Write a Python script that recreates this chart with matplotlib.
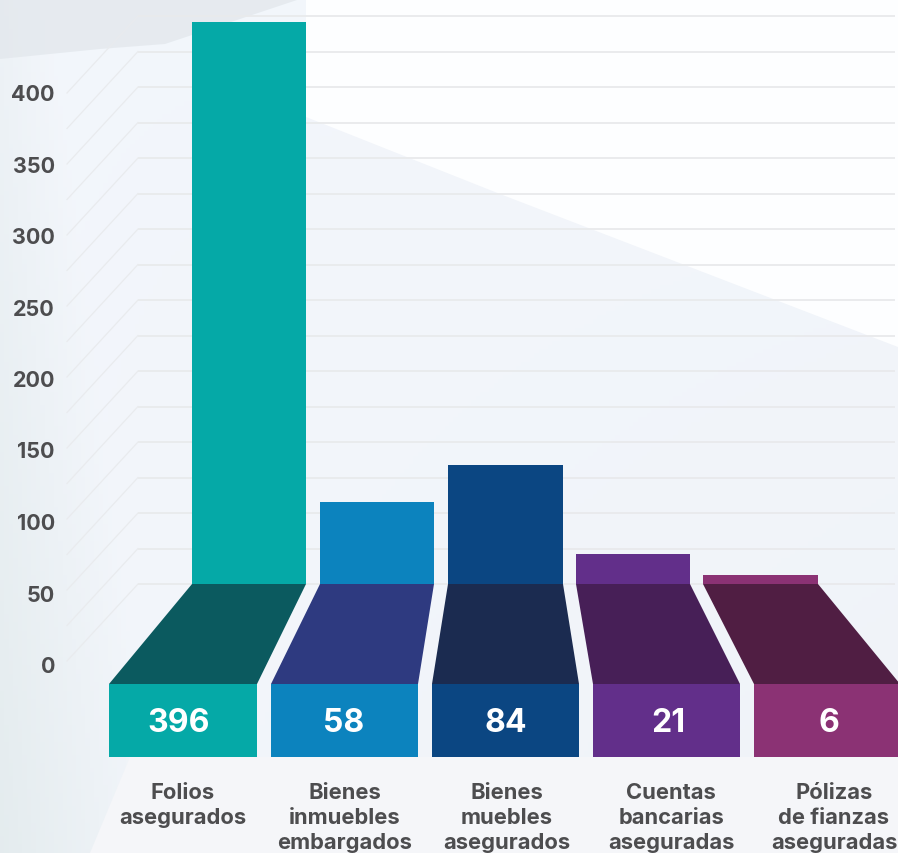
import numpy as np
import matplotlib
matplotlib.use("Agg")
import matplotlib.pyplot as plt
from matplotlib.patches import Polygon

categories = ["Folios\nasegurados", "Bienes\ninmuebles\nembargados", "Bienes\nmuebles\nasegurados",
              "Cuentas\nbancarias\naseguradas", "Pólizas\nde fianzas\naseguradas"]
values = [396, 58, 84, 21, 6]
bar_colors = ["#05A9A7", "#0C83BE", "#0B4682", "#622F8A", "#8B3274"]
floor_colors = ["#0B5A5F", "#2E3A80", "#1B2B50", "#471F57", "#501E43"]
y_ticks = [0, 50, 100, 150, 200, 250, 300, 350, 400]
grid_values = list(range(0, 425, 25))

# pixel layout
W, H = 898, 854
BASE_Y = 585
PX_PER_UNIT = 1.42
FRONT_TOP, FRONT_BOTTOM = 685, 758
back_left = [192, 320, 448, 576, 703]
back_right = [306, 434, 563, 690, 818]
front_left = [109, 271, 432, 593, 754]
front_right = [257, 418, 579, 740, 900]
label_x = [183, 345, 507, 671, 834]
number_x = [179, 344, 506, 668, 829]

plt.rcParams["font.family"] = ["Inter", "DejaVu Sans"]
fig = plt.figure(figsize=(W / 100, H / 100), dpi=100)

# background, in pixel coordinates
bg = fig.add_axes([0, 0, 1, 1])
bg.set_xlim(0, W)
bg.set_ylim(H, 0)
bg.axis("off")
gx, gy = np.meshgrid(np.linspace(0, 1, 200), np.linspace(0, 1, 200))
left_shade = np.clip(1 - gx / (0.05 + 0.13 * gy), 0, 1) * (0.35 + 0.65 * gy)
grad = np.zeros((200, 200, 3))
for i, (a, b) in enumerate(zip((0.895, 0.925, 0.935), (0.952, 0.965, 0.985))):
    grad[:, :, i] = b + (a - b) * left_shade - 0.012 * gy * gx
bg.imshow(grad, extent=(0, W, H, 0), aspect="auto", zorder=0)
bg.add_patch(Polygon([(0, 0), (300, 0), (165, 45), (100, 50), (0, 60)], fc="#E2E7EC", ec="none", alpha=0.75, zorder=1))
bg.add_patch(Polygon([(306, 0), (W, 0), (W, 348), (500, 195), (306, 118)], fc="#FDFEFF", ec="none", zorder=1))
bg.add_patch(Polygon([(130, 758), (W, 758), (W, H), (90, H)], fc="#F5F6F9", ec="none", zorder=1))

# chart, in value coordinates
ax = fig.add_axes([0, 0, 1, 1])
ax.set_xlim(0, W)
ax.set_ylim((BASE_Y - H) / PX_PER_UNIT, BASE_Y / PX_PER_UNIT)
ax.axis("off")
ax.patch.set_alpha(0)

ax.hlines(grid_values, 138, 895, color="#E9EAEC", lw=1.3, zorder=1)
for g in grid_values:
    ax.plot([138, 67], [g, g - 77 / PX_PER_UNIT], color="#E9EBEE", lw=0.9, zorder=1)

for i, v in enumerate(values):
    ax.bar(back_left[i], v, width=back_right[i] - back_left[i], align="edge", color=bar_colors[i], zorder=3)
    floor = [(back_left[i], 0), (back_right[i], 0),
             (front_right[i], (BASE_Y - FRONT_TOP) / PX_PER_UNIT), (front_left[i], (BASE_Y - FRONT_TOP) / PX_PER_UNIT)]
    ax.add_patch(Polygon(floor, fc=floor_colors[i], ec="none", zorder=3))
    ax.bar(front_left[i], (FRONT_TOP - FRONT_BOTTOM) / PX_PER_UNIT, width=front_right[i] - front_left[i],
           bottom=(BASE_Y - FRONT_TOP) / PX_PER_UNIT, align="edge", color=bar_colors[i], zorder=3)
    ax.text(number_x[i], (BASE_Y - 724) / PX_PER_UNIT, str(v), color="white", fontsize=23, fontweight="bold",
            ha="center", va="center", zorder=4)
    ax.text(label_x[i], (BASE_Y - 783) / PX_PER_UNIT, categories[i], color="#4D4D4F", fontsize=15.8,
            fontweight="bold", ha="center", va="top", linespacing=1.3, zorder=4, clip_on=True)

# value axis labels sit on the front edge, lower than the back wall
ax2 = fig.add_axes([55 / W, 0, 1 - 55 / W, 1])
ax2.set_xlim(0, 1)
ax2.set_ylim((665 - H) / 1.43, 665 / 1.43)
ax2.patch.set_alpha(0)
for s in ax2.spines.values():
    s.set_visible(False)
ax2.set_xticks([])
ax2.set_yticks(y_ticks)
ax2.tick_params(axis="y", length=0, pad=0, labelsize=15.5, labelcolor="#4D4D4F")
for t in ax2.get_yticklabels():
    t.set_fontweight("bold")

fig.savefig("out.png", dpi=100)
